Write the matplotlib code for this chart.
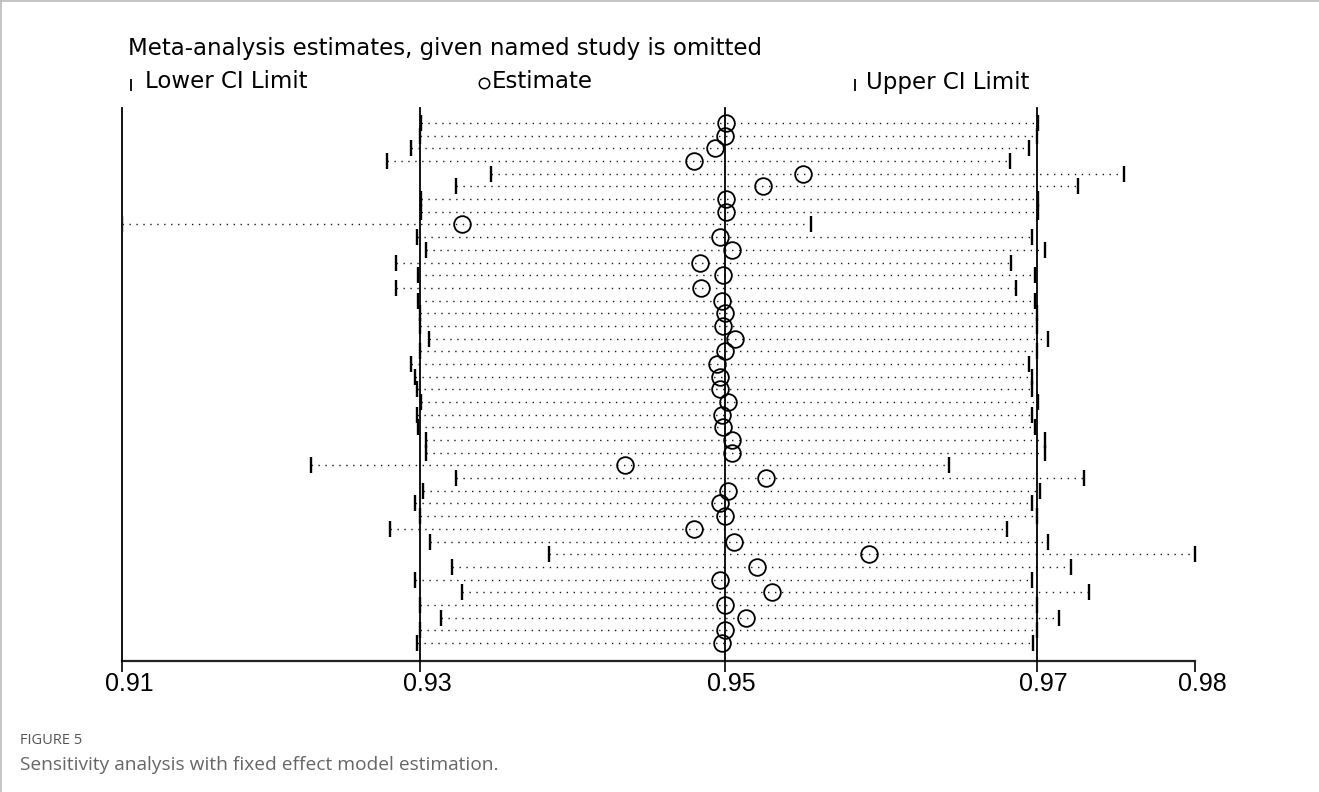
import numpy as np
import matplotlib
matplotlib.use("Agg")
import matplotlib.pyplot as plt
import matplotlib.transforms as mtransforms
from matplotlib.lines import Line2D

# ---- data (one row per omitted study, top to bottom) ----
estimate = [0.9501, 0.9500, 0.9494, 0.9480, 0.9551, 0.9525, 0.9501, 0.9501, 0.9328, 0.9497,
            0.9505, 0.9484, 0.9499, 0.9485, 0.9498, 0.9500, 0.9499, 0.9507, 0.9500, 0.9495,
            0.9497, 0.9497, 0.9502, 0.9498, 0.9499, 0.9505, 0.9505, 0.9435, 0.9527, 0.9502,
            0.9497, 0.9500, 0.9480, 0.9506, 0.9593, 0.9521, 0.9497, 0.9531, 0.9500, 0.9514,
            0.9500, 0.9498]
lower_ci = [0.9301, 0.9300, 0.9294, 0.9278, 0.9347, 0.9324, 0.9301, 0.9301, 0.9100, 0.9298,
            0.9304, 0.9284, 0.9299, 0.9284, 0.9299, 0.9300, 0.9300, 0.9306, 0.9300, 0.9294,
            0.9297, 0.9298, 0.9301, 0.9298, 0.9299, 0.9304, 0.9304, 0.9227, 0.9324, 0.9302,
            0.9297, 0.9300, 0.9280, 0.9307, 0.9385, 0.9321, 0.9297, 0.9328, 0.9300, 0.9314,
            0.9300, 0.9298]
upper_ci = [0.9701, 0.9700, 0.9695, 0.9683, 0.9755, 0.9726, 0.9701, 0.9701, 0.9556, 0.9697,
            0.9705, 0.9684, 0.9699, 0.9687, 0.9699, 0.9700, 0.9700, 0.9707, 0.9700, 0.9695,
            0.9697, 0.9697, 0.9701, 0.9697, 0.9699, 0.9705, 0.9705, 0.9644, 0.9730, 0.9702,
            0.9697, 0.9700, 0.9681, 0.9707, 0.9800, 0.9722, 0.9697, 0.9733, 0.9700, 0.9714,
            0.9700, 0.9698]
overall = [0.93, 0.95, 0.97]          # overall lower CI, estimate, upper CI
tick_values = [0.91, 0.93, 0.95, 0.97, 0.98]
tick_labels = ["0.91", "0.93", "0.95", "0.97", "0.98"]

W, H = 1319, 792
fig = plt.figure(figsize=(W / 100, H / 100), dpi=100)

ax_left, ax_right, ax_top, ax_bottom = 122.5, 1195.5, 108, 661
ax = fig.add_axes([ax_left / W, 1 - ax_bottom / H, (ax_right - ax_left) / W, (ax_bottom - ax_top) / H])

k = 1.2
ax.set_xscale("function", functions=(lambda x: np.exp(k * np.asarray(x)),
                                     lambda y: np.log(np.asarray(y)) / k))
ax.set_xlim(0.91, 0.98)

n = len(estimate)
rows = np.arange(1, n + 1)
ax.set_ylim(43.42, -0.183)

for y, lo, hi in zip(rows, lower_ci, upper_ci):
    ax.plot([lo, hi], [y, y], color="#1a1a1a", lw=1.0, linestyle=(0, (1, 4)),
            dash_capstyle="butt", zorder=2)

ax.plot(lower_ci, rows, linestyle="none", marker="|", ms=12, mew=1.7, color="black", zorder=3)
ax.plot(upper_ci, rows, linestyle="none", marker="|", ms=12, mew=1.7, color="black", zorder=3)
ax.plot(estimate, rows, linestyle="none", marker="o", ms=12, mew=1.3,
        mfc="none", mec="black", zorder=4)

for xv in [tick_values[0]] + overall:
    ax.axvline(xv, color="black", lw=1.3, zorder=5, clip_on=False)

for s in ["top", "right", "left"]:
    ax.spines[s].set_visible(False)
ax.spines["bottom"].set_linewidth(1.6)
ax.spines["bottom"].set_color("#222222")
ax.set_yticks([])
ax.set_xticks(tick_values)
ax.set_xticklabels(tick_labels)
ax.xaxis.set_minor_locator(matplotlib.ticker.NullLocator())
ax.tick_params(axis="x", direction="out", length=8, width=1.2, pad=0,
               labelsize=18, colors="black")
shift = mtransforms.ScaledTranslation(7 / 100, 0, fig.dpi_scale_trans)
for lab in ax.get_xticklabels():
    lab.set_fontfamily("Liberation Sans")
    lab.set_transform(lab.get_transform() + shift)

# title and legend text
fs = 16.5
fam = "DejaVu Sans"
fig.text(128 / W, 1 - 49 / H, "Meta-analysis estimates, given named study is omitted",
         fontsize=fs, family=fam, va="center", ha="left")
fig.text(145 / W, 1 - 82 / H, "Lower CI Limit", fontsize=fs, family=fam,
         va="center", ha="left")
fig.text(492 / W, 1 - 82 / H, "Estimate", fontsize=fs, family=fam,
         va="center", ha="left")
fig.text(866 / W, 1 - 82 / H, "Upper CI Limit", fontsize=fs, family=fam,
         va="center", ha="left")
fig.add_artist(Line2D([131 / W], [1 - 85 / H], marker="|", ms=9, mew=1.3, color="black",
                      transform=fig.transFigure))
fig.add_artist(Line2D([855 / W], [1 - 85 / H], marker="|", ms=9, mew=1.3, color="black",
                      transform=fig.transFigure))
fig.add_artist(Line2D([484 / W], [1 - 83 / H], marker="o", ms=7.5, mew=1.1, mfc="none",
                      mec="black", transform=fig.transFigure))

# caption
fig.text(20 / W, 1 - 741 / H, "FIGURE 5", fontsize=10.5, family="Open Sans",
         color="#555555", va="center", ha="left")
fig.text(20 / W, 1 - 765 / H, "Sensitivity analysis with fixed effect model estimation.",
         fontsize=13.8, family="Open Sans", color="#666666", va="center", ha="left")

# frame lines
fig.add_artist(Line2D([0, 1], [1 - 1 / H, 1 - 1 / H], color="#bbbbbb", lw=1.2,
                      transform=fig.transFigure))
fig.add_artist(Line2D([1 / W, 1 / W], [0, 1], color="#bbbbbb", lw=1.2,
                      transform=fig.transFigure))

fig.savefig("out.png", dpi=100)
